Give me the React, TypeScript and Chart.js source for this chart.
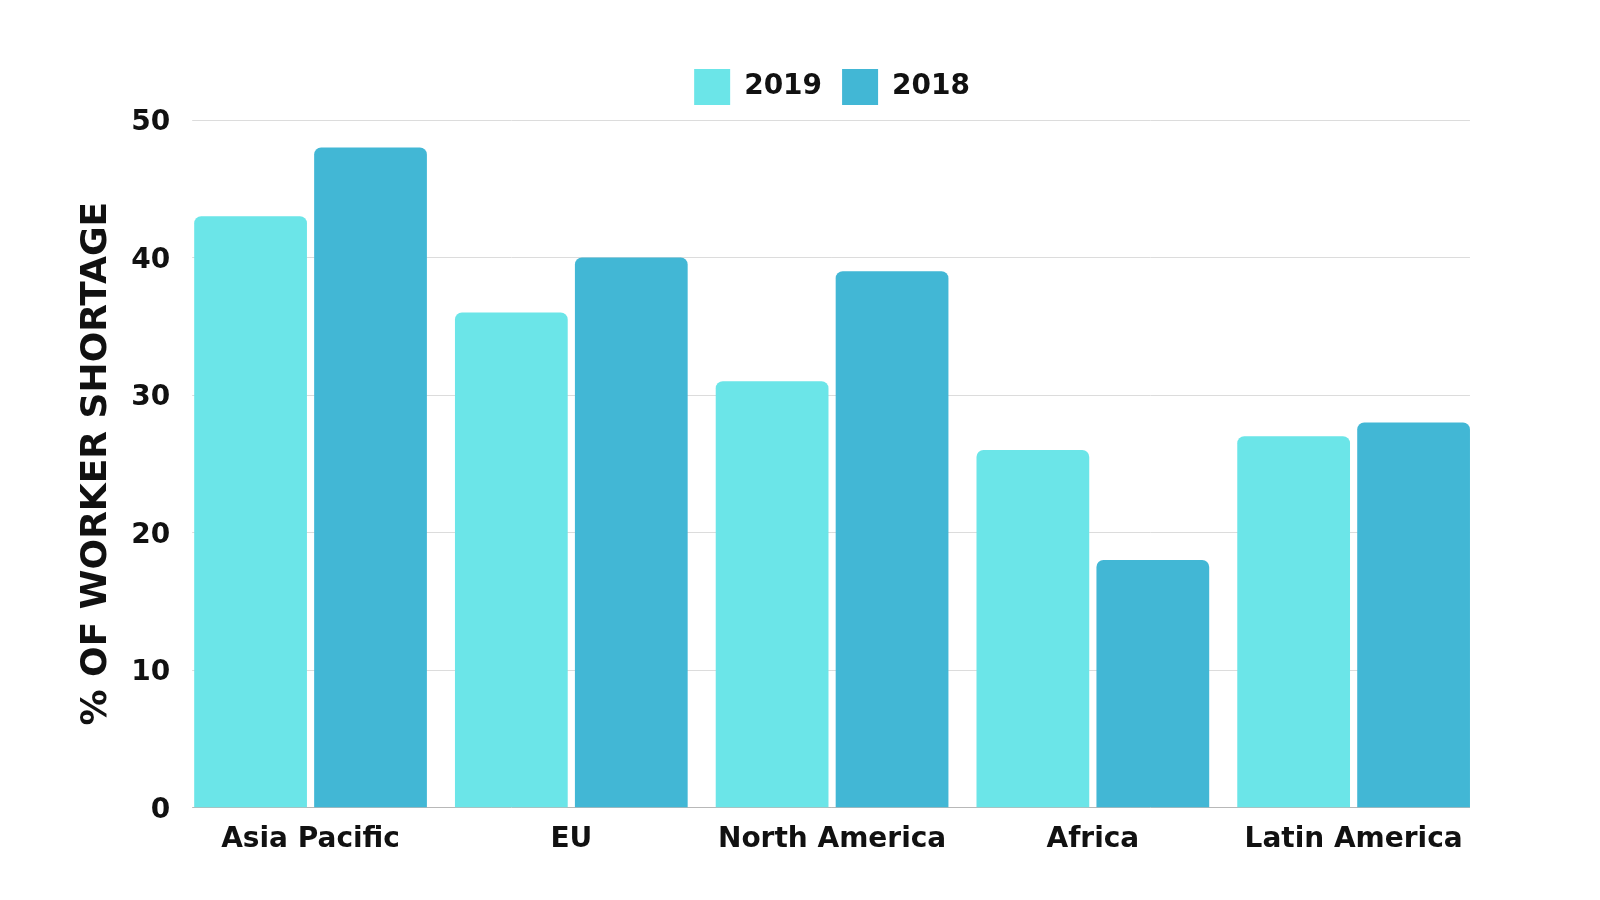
import React, { useEffect, useRef } from "react";
import { Chart, registerables } from "chart.js";

Chart.register(...registerables);

const categories = ["Asia Pacific", "EU", "North America", "Africa", "Latin America"];
const values2019 = [43, 36, 31, 26, 27];
const values2018 = [48, 40, 39, 18, 28];
const yTicks = [0, 10, 20, 30, 40, 50];

const FONT = "'DejaVu Sans', sans-serif";

const gridPlugin = {
  id: "customGrid",
  afterInit(chart: any) {
    const legend = chart.legend;
    if (legend && !legend.__patched) {
      const orig = legend.fit;
      legend.fit = function () {
        orig.call(this);
        this.height += 5;
      };
      legend.__patched = true;
    }
  },
  beforeDatasetsDraw(chart: any) {
    const { ctx } = chart;
    const y = chart.scales.y;
    const m0 = chart.getDatasetMeta(0).data;
    const m1 = chart.getDatasetMeta(1).data;
    if (!m0.length || !m1.length) return;
    const first = m0[0] as any;
    const last = m1[m1.length - 1] as any;
    const left = first.x - first.width / 2;
    const right = last.x + last.width / 2;
    ctx.save();
    yTicks.forEach((t) => {
      const py = Math.round(y.getPixelForValue(t)) + 0.5;
      ctx.beginPath();
      ctx.strokeStyle = t === 0 ? "#b8b8b8" : "#dcdcdc";
      ctx.lineWidth = 1;
      ctx.moveTo(left - 2, py);
      ctx.lineTo(right, py);
      ctx.stroke();
    });
    ctx.restore();
  },
};

export default function App() {
  const ref = useRef<HTMLCanvasElement>(null);
  useEffect(() => {
    document.body.style.margin = "0";
    const chart = new Chart(ref.current!, {
      type: "bar",
      data: {
        labels: categories,
        datasets: [
          {
            label: "2019",
            data: values2019,
            backgroundColor: "#6be5e8",
            borderColor: "#6be5e8",
            borderWidth: 0,
            borderRadius: { topLeft: 7, topRight: 7, bottomLeft: 0, bottomRight: 0 },
            borderSkipped: false,
            categoryPercentage: 0.92,
            barPercentage: 0.94,
          },
          {
            label: "2018",
            data: values2018,
            backgroundColor: "#42b7d5",
            borderColor: "#42b7d5",
            borderWidth: 0,
            borderRadius: { topLeft: 7, topRight: 7, bottomLeft: 0, bottomRight: 0 },
            borderSkipped: false,
            categoryPercentage: 0.92,
            barPercentage: 0.94,
          },
        ],
      },
      options: {
        responsive: false,
        animation: false,
        maintainAspectRatio: false,
        layout: { padding: { left: 75, right: 116, top: 49, bottom: 35 } },
        plugins: {
          legend: {
            position: "top",
            fullSize: false,
            labels: {
              boxWidth: 36,
              boxHeight: 36,
              padding: 20,
              color: "#111",
              font: { family: FONT, size: 28, weight: "bold" },
            },
          },
          tooltip: { enabled: false },
        },
        scales: {
          x: {
            grid: { display: false },
            border: { display: false },
            ticks: {
              color: "#111",
              padding: 8,
              font: { family: FONT, size: 28, weight: "bold" },
            },
          },
          y: {
            min: 0,
            max: 50,
            afterBuildTicks(scale: any) {
              scale.ticks = yTicks.map((v) => ({ value: v }));
            },
            grid: { display: false, drawTicks: false },
            border: { display: false },
            ticks: {
              color: "#111",
              padding: 10,
              labelOffset: 3,
              font: { family: FONT, size: 28, weight: "bold" },
            },
            title: {
              display: true,
              text: "% OF WORKER SHORTAGE",
              color: "#111",
              padding: { top: 0, bottom: 3 },
              font: { family: FONT, size: 36, weight: "bold" },
            },
          },
        },
      },
      plugins: [gridPlugin],
    });
    return () => chart.destroy();
  }, []);
  return (
    <div style={{ position: "absolute", left: 0, top: 0, width: 1600, height: 900, background: "#fff" }}>
      <canvas ref={ref} width={1600} height={900} style={{ width: 1600, height: 900 }} />
    </div>
  );
}
